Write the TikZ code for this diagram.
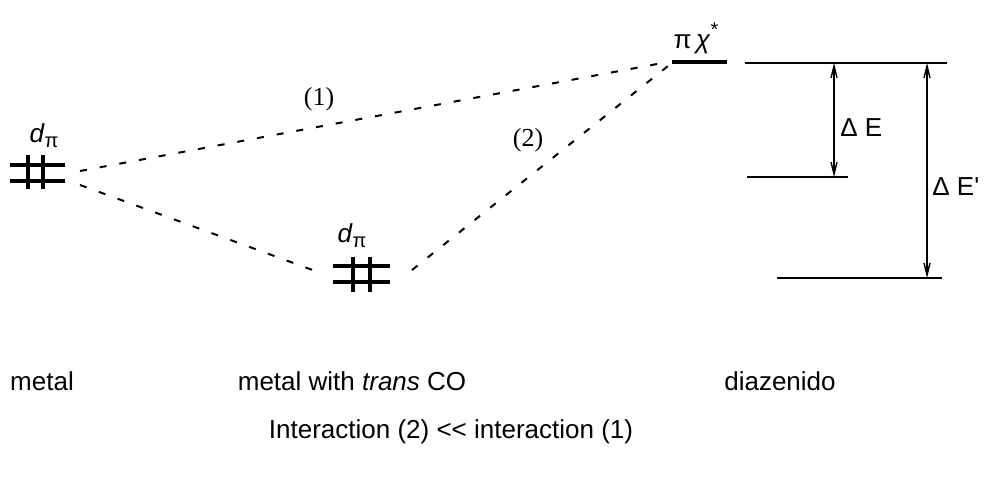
\documentclass[tikz,border=0pt]{standalone}
\usepackage{fontspec}
\setmainfont{Liberation Sans}[Ligatures=TeXOff]
\newfontfamily\serifpar{Liberation Serif}
\usetikzlibrary{arrows.meta}
\begin{document}
\begin{tikzpicture}[x=0.5pt,y=-0.5pt,
  lvl/.style={line width=0.9pt},
  thickbar/.style={line width=2.4pt},
  vbar/.style={line width=1.7pt},
  conn/.style={line width=1pt, dash pattern=on 3.5pt off 6.5pt},
  gaparrow/.style={line width=0.7pt, {Straight Barb[length=6pt,width=3pt]}-{Straight Barb[length=6pt,width=3pt]}},
  lbl/.style={font=\fontsize{13}{15}\selectfont, inner sep=0pt},
  numlbl/.style={font=\serifpar\fontsize{13}{15}\selectfont, inner sep=0pt}]
\useasboundingbox (0,0) rectangle (992,496);

% left d_pi (metal)
\node[lbl] (dL) at (44,136) {\textit{d}\raisebox{-0.35ex}{\fontsize{10}{10}\selectfont π}};
\draw[thickbar] (10,165) -- (65,165) (10,181) -- (65,181);
\draw[vbar] (28,155) -- (28,189) (43,155) -- (43,189);
\coordinate (Lup) at (80,171);
\coordinate (Llo) at (80,185);

% middle d_pi (metal with trans CO)
\node[lbl] (dM) at (352,236) {\textit{d}\raisebox{-0.35ex}{\fontsize{10}{10}\selectfont π}};
\draw[thickbar] (333,266) -- (390,266) (333,282) -- (390,282);
\draw[vbar] (353,257) -- (353,292) (370,257) -- (370,292);
\coordinate (Ml) at (318,272);
\coordinate (Mr) at (412,270);

% pi chi* level
\node[lbl] (pc) at (696,38) {π\,\textit{χ}\raisebox{0.9ex}{\fontsize{10}{10}\selectfont *}};
\draw[thickbar] (672,62) -- (727,62);
\coordinate (Ptop) at (668,62);
\coordinate (Ptop2) at (668,66);

% dashed interactions
\draw[conn] (Lup) -- (Ptop);
\draw[conn] (Llo) -- (Ml);
\draw[conn] (Mr) -- (Ptop2);
\node[numlbl] (n1) at (319,99) {(1)};
\node[numlbl] (n2) at (528,140) {(2)};

% right energy levels
\coordinate (T1) at (745,63);
\coordinate (T2) at (947,63);
\coordinate (M1) at (747,177);
\coordinate (M2) at (848,177);
\coordinate (B1) at (777,278);
\coordinate (B2) at (942,278);
\draw[lvl] (T1) -- (T2);
\draw[lvl] (M1) -- (M2);
\draw[lvl] (B1) -- (B2);
\coordinate (a1t) at (834,63);
\coordinate (a1b) at (834,177);
\coordinate (a2t) at (927,63);
\coordinate (a2b) at (927,278);
\draw[gaparrow] (a1t) -- (a1b);
\draw[gaparrow] (a2t) -- (a2b);
\node[lbl, anchor=west] (dE) at (840,128) {Δ E};
\node[lbl, anchor=west] (dE2) at (932,187) {Δ E'};

% captions
\node[lbl] (c1) at (42,381) {metal};
\node[lbl] (c2) at (352,381) {metal with \textit{trans} CO};
\node[lbl] (c3) at (780,381) {diazenido};
\node[lbl] (c4) at (451,432) {Interaction (2) << interaction (1)};
\end{tikzpicture}
\end{document}
